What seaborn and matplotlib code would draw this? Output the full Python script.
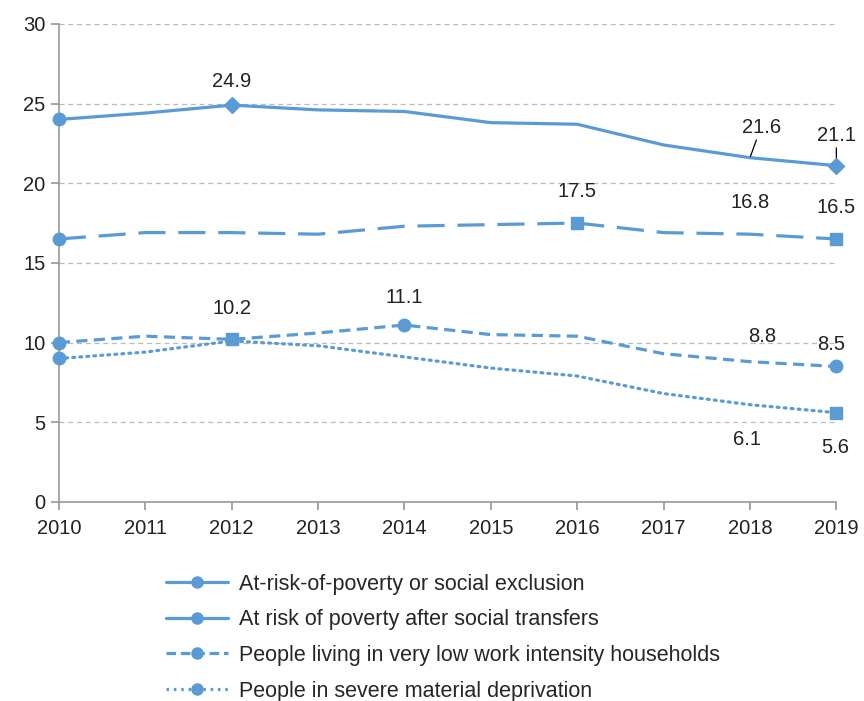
import matplotlib
matplotlib.use("Agg")
import matplotlib.pyplot as plt
import pandas as pd
import seaborn as sns
from matplotlib.lines import Line2D

# data
years = [2010, 2011, 2012, 2013, 2014, 2015, 2016, 2017, 2018, 2019]
arope = [24.0, 24.4, 24.9, 24.6, 24.5, 23.8, 23.7, 22.4, 21.6, 21.1]
at_risk = [16.5, 16.9, 16.9, 16.8, 17.3, 17.4, 17.5, 16.9, 16.8, 16.5]
low_work = [10.0, 10.4, 10.2, 10.6, 11.1, 10.5, 10.4, 9.3, 8.8, 8.5]
deprivation = [9.0, 9.4, 10.1, 9.8, 9.1, 8.4, 7.9, 6.8, 6.1, 5.6]

series_names = [
    "At-risk-of-poverty or social exclusion",
    "At risk of poverty after social transfers",
    "People living in very low work intensity households",
    "People in severe material deprivation",
]
series_values = [arope, at_risk, low_work, deprivation]

# (year index, marker) for the highlighted points
point_markers = [
    [(0, "o"), (2, "D"), (9, "D")],
    [(0, "o"), (6, "s"), (9, "s")],
    [(0, "o"), (2, "s"), (4, "o"), (9, "o")],
    [(0, "o"), (9, "s")],
]

# (year index, label, dx, dy in points, leader line)
labels = [
    [(2, "24.9", 0, 17, False), (8, "21.6", 8, 22, True), (9, "21.1", 0, 22, True)],
    [(6, "17.5", 0, 23, False), (8, "16.8", 0, 23, False), (9, "16.5", 0, 23, False)],
    [(2, "10.2", 0, 22, False), (4, "11.1", 0, 20, False), (8, "8.8", 9, 18, False),
     (9, "8.5", -4, 16, False)],
    [(8, "6.1", -2, -25, False), (9, "5.6", -1, -25, False)],
]

color = "#5B9BD5"
text_color = "#222222"
linestyles = ["-", (0, (8.5, 4)), (0, (3.5, 2)), (0, (0.6, 1.6))]

sns.set_theme(style="white")
plt.rcParams["font.family"] = ["Liberation Sans", "DejaVu Sans"]

fig = plt.figure(figsize=(8.64, 7.01), dpi=100)
ax = fig.add_axes([0.068, 0.284, 0.9, 0.682])

for i, (name, vals) in enumerate(zip(series_names, series_values)):
    df = pd.DataFrame({"year": years, "value": vals})
    sns.lineplot(data=df, x="year", y="value", ax=ax, color=color,
                 linewidth=2.3, linestyle=linestyles[i],
                 dash_capstyle="butt" if i < 3 else "round")
    for idx, m in point_markers[i]:
        ax.plot(years[idx], vals[idx], marker=m, color=color,
                markersize=9 if m != "D" else 8.5, linestyle="none",
                zorder=4, clip_on=False)
    for idx, txt, dx, dy, leader in labels[i]:
        ax.annotate(txt, (years[idx], vals[idx]), xytext=(dx, dy),
                    textcoords="offset points", ha="center", va="center",
                    fontsize=14.5, color=text_color,
                    arrowprops=dict(arrowstyle="-", color="black", lw=0.9,
                                    shrinkA=0, shrinkB=1) if leader else None)

ax.set_xlim(2010, 2019)
ax.set_ylim(0, 30)
ax.set_xticks(years)
ax.set_yticks(range(0, 31, 5))
ax.set_xlabel("")
ax.set_ylabel("")
ax.tick_params(axis="both", labelsize=14.5, labelcolor=text_color, length=6,
               color="#999999", direction="out", bottom=True, left=True)
ax.tick_params(axis="x", pad=6)
ax.grid(axis="y", linestyle=(0, (4, 3)), color="#BBBBBB", linewidth=0.9)
ax.set_axisbelow(True)
for side in ["top", "right"]:
    ax.spines[side].set_visible(False)
for side in ["left", "bottom"]:
    ax.spines[side].set_color("#999999")
    ax.spines[side].set_linewidth(1.2)

handles = [
    Line2D([0], [0], color=color, linewidth=2.3, linestyle=ls,
           marker="o", markersize=8)
    for ls in ["-", "-", (0, (3, 1.5)), (0, (0.8, 1.5))]
]
fig.legend(handles, series_names, loc="upper left",
           bbox_to_anchor=(0.182, 0.194), frameon=False, fontsize=15.5,
           handlelength=2.9, handletextpad=0.5, labelspacing=0.68,
           borderaxespad=0)

fig.savefig("out.png", dpi=100)
